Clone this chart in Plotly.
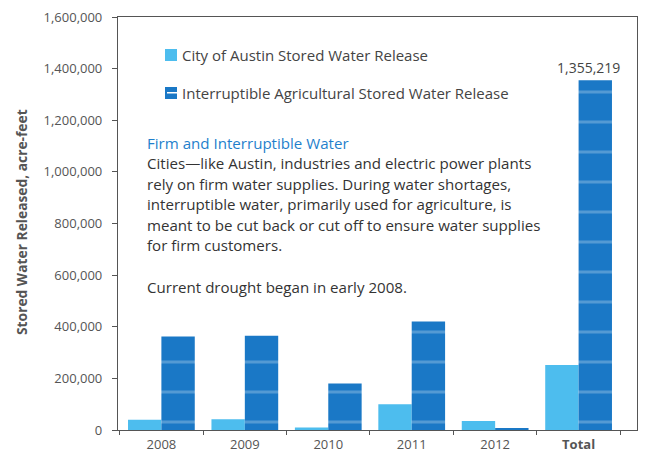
import plotly.graph_objects as go

categories = ["2008", "2009", "2010", "2011", "2012", "Total"]
tick_labels = ["2008", "2009", "2010", "2011", "2012", "<b>Total</b>"]
austin_release = [40000, 42000, 10000, 100000, 35000, 252000]
ag_release = [362000, 365000, 180000, 420000, 8000, 1355219]
series_names = ["City of Austin Stored Water Release",
                "Interruptible Agricultural Stored Water Release"]
y_ticks = [0, 200000, 400000, 600000, 800000, 1000000, 1200000, 1400000, 1600000]
total_label = "1,355,219"
y_title = "Stored Water Released, acre-feet"

LIGHT = "#4dbdee"
DARK = "#1a78c6"
FONT = "Open Sans"

# page body has an 8px default margin; the figure is sized to fit the window
OFF = 8
W, H = 646 - OFF, 452 - OFF
# plot frame in window pixels
L, R, T, B = 118, 637, 17, 430


def px_x(x):
    return (x - L) / (R - L)


def px_y(y):
    return (B - y) / (B - T)


fig = go.Figure()
fig.add_trace(go.Bar(x=categories, y=austin_release, name=series_names[0],
                     marker=dict(color=LIGHT, line=dict(width=0)), showlegend=False))
fig.add_trace(go.Bar(x=categories, y=ag_release, name=series_names[1],
                     marker=dict(color=DARK, line=dict(width=0),
                                 pattern=dict(shape="-", fgcolor="rgba(255,255,255,0.5)",
                                              size=30, solidity=0.1)),
                     showlegend=False))

annotations = []
annotations.append(dict(x=5, y=ag_release[5], xref="x", yref="y", text=total_label,
                        showarrow=False, yshift=13, xshift=10,
                        font=dict(family=FONT, size=14, color="#444")))

annotations.append(dict(x=px_x(22), y=px_y(222), xref="paper", yref="paper",
                        text="<b>" + y_title + "</b>", textangle=-90, showarrow=False,
                        xanchor="center", yanchor="middle",
                        font=dict(family=FONT, size=13.8, color="#555")))

legend_rows = [(55, LIGHT), (93, DARK)]
shapes = []
for (ypx, col), name in zip(legend_rows, series_names):
    shapes.append(dict(type="rect", xref="paper", yref="paper",
                       x0=px_x(165), x1=px_x(177), y0=px_y(ypx + 6), y1=px_y(ypx - 6),
                       fillcolor=col, line=dict(width=0)))
    annotations.append(dict(x=px_x(180), y=px_y(ypx), xref="paper", yref="paper",
                            text=name, showarrow=False, xanchor="left", yanchor="middle",
                            font=dict(family=FONT, size=15, color="#444")))
shapes.append(dict(type="rect", xref="paper", yref="paper",
                   x0=px_x(167), x1=px_x(177), y0=px_y(93.5), y1=px_y(92),
                   fillcolor="white", line=dict(width=0)))

text_lines = [
    (143, "Firm and Interruptible Water", "#1f7fcc"),
    (163, "Cities\u2014like Austin, industries and electric power plants", "#333"),
    (184, "rely on firm water supplies. During water shortages,", "#333"),
    (204, "interruptible water, primarily used for agriculture, is", "#333"),
    (225, "meant to be cut back or cut off to ensure water supplies", "#333"),
    (245, "for firm customers.", "#333"),
    (287, "Current drought began in early 2008.", "#333"),
]
for ypx, txt, col in text_lines:
    annotations.append(dict(x=px_x(145), y=px_y(ypx), xref="paper", yref="paper",
                            text=txt, showarrow=False, xanchor="left", yanchor="middle",
                            font=dict(family=FONT, size=15.1, color=col)))

fig.update_layout(
    width=W, height=H,
    margin=dict(l=L - OFF, r=W - (R - OFF), t=T - OFF, b=H - (B - OFF), autoexpand=False),
    paper_bgcolor="white", plot_bgcolor="white",
    barmode="group", bargap=0.2, bargroupgap=0,
    font=dict(family=FONT, size=13, color="#555"),
    annotations=annotations, shapes=shapes,
    showlegend=False,
)
fig.update_xaxes(
    type="category", categoryorder="array", categoryarray=categories,
    tickvals=categories, ticktext=tick_labels,
    range=[-0.52, 5.7], automargin=False,
    showline=True, linecolor="#555", linewidth=1.2, mirror=True,
    ticks="outside", tickson="boundaries", ticklen=4, tickcolor="#555",
    ticklabelstandoff=2, ticklabeloverflow="allow",
    tickfont=dict(family=FONT, size=13, color="#555"),
    showgrid=False,
)
fig.update_yaxes(
    range=[0, 1600000], tickvals=y_ticks, tickformat=",", automargin=False,
    showline=True, linecolor="#555", linewidth=1.2, mirror=True,
    ticks="outside", ticklen=5, tickcolor="#555", ticklabelstandoff=7,
    ticklabeloverflow="allow",
    tickfont=dict(family=FONT, size=13, color="#555"),
    showgrid=False, zeroline=False,
)

fig.write_html("out.html")
